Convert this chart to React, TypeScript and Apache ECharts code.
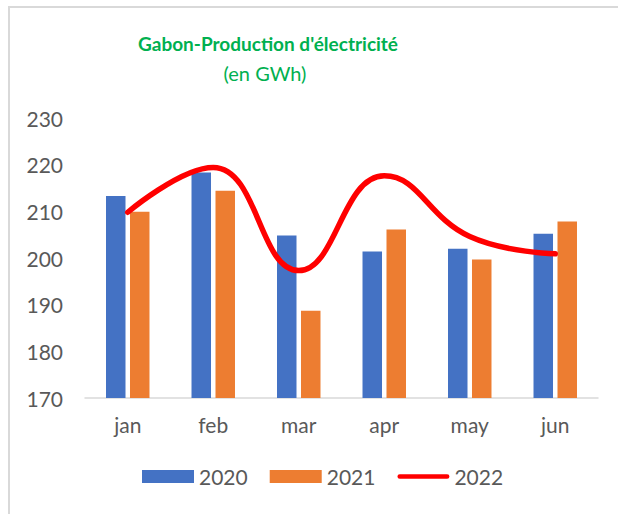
import React, { useEffect, useRef } from "react";
import * as echarts from "echarts";

const categories = ["jan", "feb", "mar", "apr", "may", "jun"];
const s2020 = [213.3, 218.3, 204.8, 201.4, 202.0, 205.2];
const s2021 = [209.9, 214.4, 188.7, 206.1, 199.7, 207.8];
const s2022 = [209.8, 219.4, 197.3, 217.6, 204.6, 200.9];
const yTicks = { min: 170, max: 230, interval: 10 };

const FONT = "Lato";
const LINE_ICON =
  "path://M2.5,0 H53.5 A2.5,2.5 0 0 1 53.5,5 H2.5 A2.5,2.5 0 0 1 2.5,0 Z";

export default function App() {
  const ref = useRef<HTMLDivElement>(null);
  useEffect(() => {
    const chart = echarts.init(ref.current!, null, { renderer: "svg" });
    chart.setOption({
      animation: false,
      backgroundColor: "#ffffff",
      textStyle: { fontFamily: FONT },
      graphic: [
        {
          type: "rect",
          shape: { x: 9, y: 7, width: 700, height: 600 },
          style: { fill: "none", stroke: "#D9D9D9", lineWidth: 2 },
          silent: true,
        },
        {
          type: "text",
          x: 268,
          y: 43,
          style: {
            text: "Gabon-Production d'électricité",
            fill: "#00B050",
            font: `bold 19px ${FONT}`,
            align: "center",
            verticalAlign: "middle",
          },
        },
        {
          type: "text",
          x: 265,
          y: 73,
          style: {
            text: "(en GWh)",
            fill: "#00B050",
            font: `20px ${FONT}`,
            align: "center",
            verticalAlign: "middle",
          },
        },
      ],
      grid: { left: 85, right: 20, top: 118, bottom: 116, containLabel: false },
      legend: {
        bottom: 22,
        left: 137,
        itemWidth: 52,
        itemHeight: 13,
        itemGap: 22,
        textStyle: { color: "#595959", fontSize: 21, fontFamily: FONT },
        data: [
          { name: "2020", icon: "rect" },
          { name: "2021", icon: "rect" },
          { name: "2022", icon: LINE_ICON, itemStyle: { color: "#FF0000" } },
        ],
      },
      xAxis: {
        type: "category",
        data: categories,
        axisLine: { lineStyle: { color: "#D9D9D9", width: 1.5 } },
        axisTick: { show: false },
        axisLabel: { color: "#595959", fontSize: 21, margin: 16, fontFamily: FONT },
      },
      yAxis: {
        type: "value",
        min: yTicks.min,
        max: yTicks.max,
        interval: yTicks.interval,
        splitLine: { show: false },
        axisLine: { show: false },
        axisTick: { show: false },
        axisLabel: { color: "#595959", fontSize: 21, margin: 22, fontFamily: FONT },
      },
      series: [
        {
          name: "2020",
          type: "bar",
          data: s2020,
          barWidth: 19.5,
          barGap: "23%",
          itemStyle: { color: "#4472C4" },
        },
        {
          name: "2021",
          type: "bar",
          data: s2021,
          barWidth: 19.5,
          itemStyle: { color: "#ED7D31" },
        },
        {
          name: "2022",
          type: "line",
          data: s2022,
          smooth: 0.45,
          symbol: "none",
          lineStyle: { color: "#FF0000", width: 5.5, cap: "round", join: "round" },
          itemStyle: { color: "#FF0000" },
        },
      ],
    });
    return () => chart.dispose();
  }, []);
  return (
    <div
      ref={ref}
      style={{ position: "fixed", left: 0, top: 0, width: 618, height: 514 }}
    />
  );
}
